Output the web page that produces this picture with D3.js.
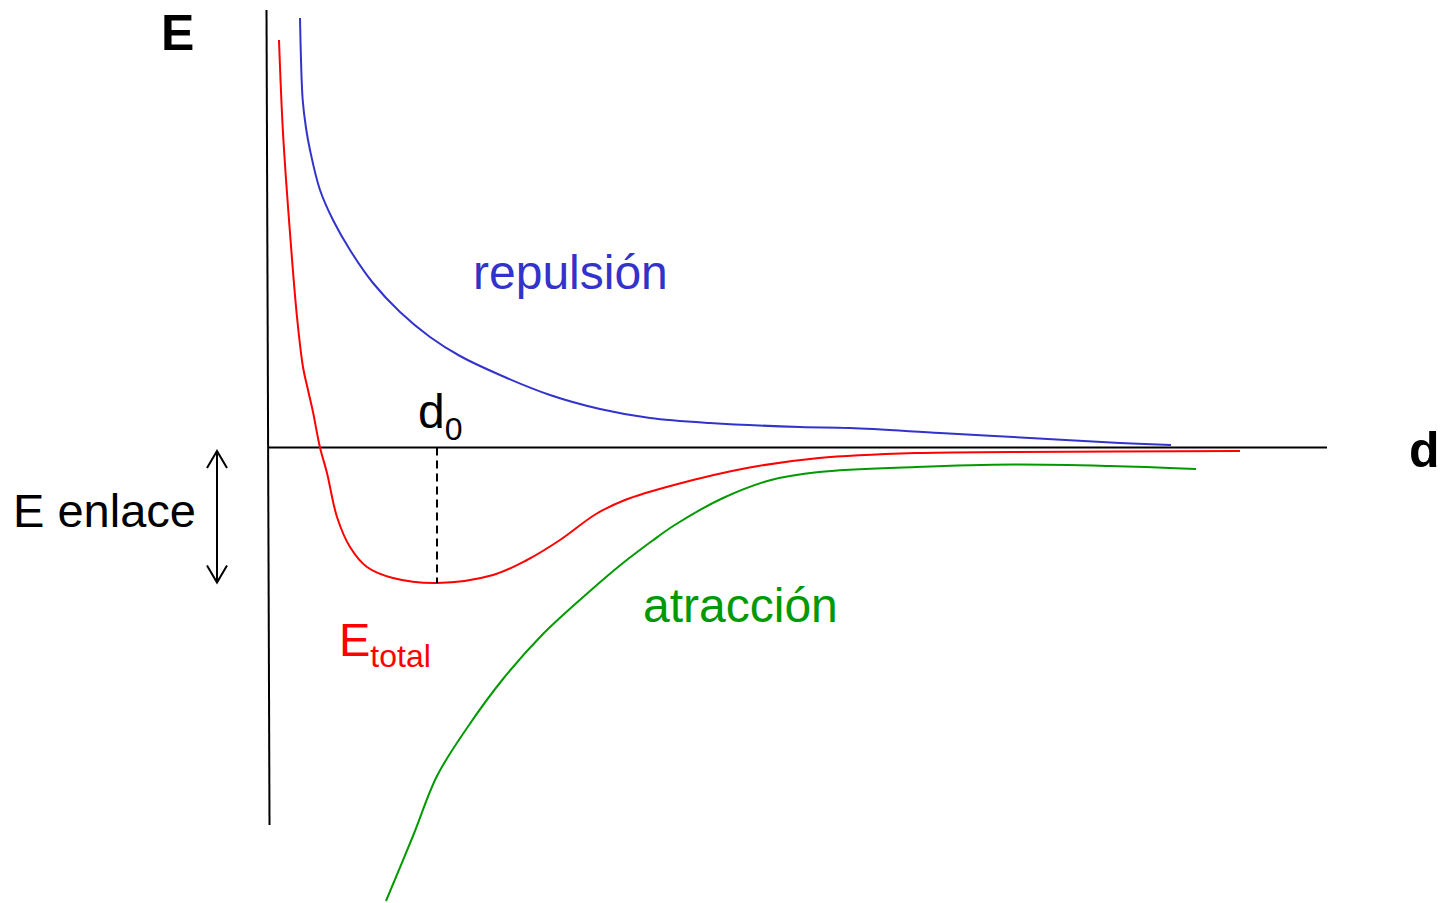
<!DOCTYPE html>
<html>
<head>
<meta charset="utf-8">
<script src="https://cdn.jsdelivr.net/npm/d3@7"></script>
<style>
  body { margin: 0; background: #fff; }
  svg { display: block; font-family: "Liberation Sans", Arial, sans-serif; }
</style>
</head>
<body>
<div id="chart"></div>
<script>
// distance d (x) and energy E (y)
const repulsionD = [0.32, 0.33, 0.347, 0.38, 0.42, 0.52, 0.65, 0.82, 1.05, 1.32, 1.62, 1.92, 2.32, 2.82, 3.32, 3.82, 4.42, 5.32, 5.82, 6.72, 7.62, 8.52, 9.03];
const repulsionE = [4.295, 3.875, 3.475, 3.195, 2.975, 2.575, 2.275, 1.975, 1.645, 1.355, 1.105, 0.915, 0.725, 0.525, 0.385, 0.295, 0.245, 0.205, 0.195, 0.145, 0.095, 0.045, 0.025];

const totalD = [0.11, 0.15, 0.22, 0.29, 0.35, 0.40, 0.45, 0.52, 0.59, 0.69, 0.82, 0.99, 1.25, 1.69, 2.25, 2.59, 2.92, 3.28, 3.57, 4.06, 4.79, 5.51, 6.48, 7.45, 9.72];
const totalE = [4.075, 3.145, 2.145, 1.305, 0.805, 0.575, 0.355, 0, -0.255, -0.695, -0.995, -1.195, -1.305, -1.355, -1.275, -1.125, -0.925, -0.665, -0.525, -0.375, -0.205, -0.105, -0.055, -0.045, -0.035];

const attractionD = [1.18, 1.45, 1.69, 1.99, 2.35, 2.75, 3.22, 3.55, 3.84, 4.06, 4.54, 5.03, 5.51, 6.48, 7.45, 8.42, 9.28];
const attractionE = [-4.535, -3.885, -3.285, -2.805, -2.315, -1.865, -1.435, -1.155, -0.935, -0.78, -0.51, -0.325, -0.245, -0.195, -0.17, -0.185, -0.215];

const d0 = 1.69;
const eMin = -1.355;
const arrowD = -0.51;
const arrowE = [-0.035, -1.35];
const yAxisD = [-0.015, 0.015];
const yAxisE = [4.375, -3.775];
const xAxisD = [0, 10.59];

const width = 1443, height = 903;

const svg = d3.select("#chart").append("svg")
    .attr("width", width)
    .attr("height", height);

const x = d3.scaleLinear().domain([0, 10.6]).range([268, 1328]);
const y = d3.scaleLinear().domain([-4.5, 4.4]).range([897.5, 7.5]);

const line = d3.line()
    .x(d => x(d[0]))
    .y(d => y(d[1]))
    .curve(d3.curveCatmullRom.alpha(0.5));

// axes
svg.append("line")
    .attr("x1", x(yAxisD[0])).attr("y1", y(yAxisE[0]))
    .attr("x2", x(yAxisD[1])).attr("y2", y(yAxisE[1]))
    .attr("stroke", "#000").attr("stroke-width", 2);
svg.append("line")
    .attr("x1", x(xAxisD[0])).attr("y1", y(0))
    .attr("x2", x(xAxisD[1])).attr("y2", y(0))
    .attr("stroke", "#000").attr("stroke-width", 2);

const curves = [
    { d: repulsionD, e: repulsionE, color: "#3333cc" },
    { d: totalD, e: totalE, color: "#ff0000" },
    { d: attractionD, e: attractionE, color: "#009900" }
];

svg.selectAll("path.curve")
    .data(curves)
    .join("path")
    .attr("class", "curve")
    .attr("d", c => line(d3.zip(c.d, c.e)))
    .attr("fill", "none")
    .attr("stroke", c => c.color)
    .attr("stroke-width", 2);

// dashed line at d0
svg.append("line")
    .attr("x1", x(d0)).attr("y1", y(0))
    .attr("x2", x(d0)).attr("y2", y(eMin))
    .attr("stroke", "#000")
    .attr("stroke-width", 2)
    .attr("stroke-dasharray", "8,5");

// bond energy double arrow
const ax = x(arrowD), aTop = y(arrowE[0]), aBot = y(arrowE[1]);
const arrow = svg.append("g").attr("stroke", "#000").attr("stroke-width", 2).attr("fill", "none");
arrow.append("line").attr("x1", ax).attr("y1", aTop).attr("x2", ax).attr("y2", aBot);
arrow.append("polyline").attr("points", [[ax - 10, aTop + 17], [ax, aTop], [ax + 10, aTop + 17]].join(" "));
arrow.append("polyline").attr("points", [[ax - 10, aBot - 17], [ax, aBot], [ax + 10, aBot - 17]].join(" "));

// labels
svg.append("text").attr("x", 161).attr("y", 50)
    .attr("font-size", 50).attr("font-weight", "bold").text("E");
svg.append("text").attr("x", 1409).attr("y", 467)
    .attr("font-size", 50).attr("font-weight", "bold").text("d");
svg.append("text").attr("x", 13).attr("y", 527)
    .attr("font-size", 47).text("E enlace");
svg.append("text").attr("x", 473).attr("y", 289)
    .attr("font-size", 48).attr("fill", "#3333cc").text("repulsión");
svg.append("text").attr("x", 643).attr("y", 622)
    .attr("font-size", 48).attr("fill", "#009900").text("atracción");

const dLabel = svg.append("text").attr("x", 418).attr("y", 428).attr("font-size", 48);
dLabel.append("tspan").text("d");
dLabel.append("tspan").attr("font-size", 32).attr("dy", 12).text("0");

const eLabel = svg.append("text").attr("x", 339).attr("y", 656)
    .attr("font-size", 47).attr("fill", "#ff0000");
eLabel.append("tspan").text("E");
eLabel.append("tspan").attr("font-size", 32).attr("dy", 11).text("total");
</script>
</body>
</html>
